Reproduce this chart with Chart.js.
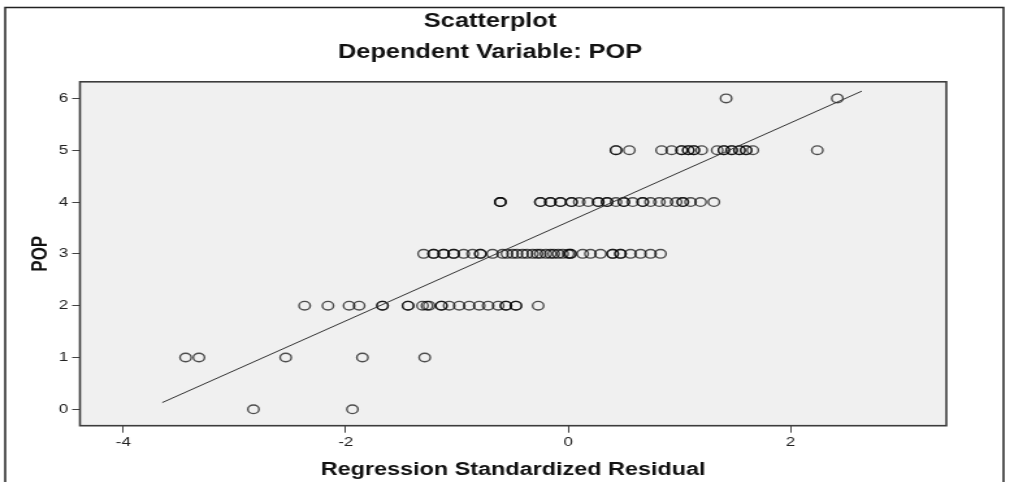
<!DOCTYPE html>
<html>
<head>
<meta charset="utf-8">
<script src="https://cdn.jsdelivr.net/npm/chart.js@4"></script>
<style>
    html, body { margin: 0; padding: 0; background: #fff; overflow: hidden; }
    /* the source image is stretched sideways, so the canvas is too */
    #wrap { width: 777px; height: 482px; transform: scaleX(1.2999); transform-origin: 0 0; }
</style>
</head>
<body>
<div id="wrap"><canvas id="chart" width="777" height="482"></canvas></div>
<script>
// residuals (x) for each POP value (y)
const popLevels = [0, 1, 2, 3, 4, 5, 6];
const resPop0 = [-2.83, -1.94];
const resPop1 = [-3.44, -3.32, -2.54, -1.85, -1.29];
const resPop2 = [-2.37, -2.16, -1.97, -1.88, -1.67, -1.67, -1.44, -1.44, -1.31, -1.27, -1.25,
    -1.14, -1.14, -1.07, -0.98, -0.89, -0.80, -0.72, -0.63, -0.56, -0.56, -0.47, -0.47, -0.27];
const resPop3 = [-1.30, -1.21, -1.21, -1.12, -1.12, -1.03, -1.03, -0.94, -0.86, -0.79, -0.79,
    -0.68, -0.59, -0.55, -0.50, -0.46, -0.41, -0.37, -0.32, -0.28, -0.25, -0.20, -0.16, -0.13,
    -0.09, -0.05, 0.00, 0.02, 0.02, 0.13, 0.20, 0.29, 0.40, 0.40, 0.47, 0.47, 0.56, 0.65, 0.74, 0.83];
const resPop4 = [-0.61, -0.61, -0.61, -0.25, -0.25, -0.16, -0.16, -0.07, -0.07, 0.03, 0.03,
    0.10, 0.18, 0.27, 0.27, 0.35, 0.35, 0.43, 0.50, 0.50, 0.58, 0.67, 0.67, 0.74, 0.82, 0.89,
    0.97, 1.03, 1.03, 1.10, 1.19, 1.31];
const resPop5 = [0.43, 0.43, 0.55, 0.84, 0.93, 1.02, 1.02, 1.08, 1.08, 1.13, 1.13, 1.20,
    1.34, 1.40, 1.40, 1.47, 1.47, 1.54, 1.54, 1.60, 1.60, 1.66, 2.24];
const resPop6 = [1.42, 2.42];
const residualsByPop = [resPop0, resPop1, resPop2, resPop3, resPop4, resPop5, resPop6];

// fit line end points
const fitX = [-3.65, 2.64];
const fitY = [0.13, 6.14];

const xTickStep = 2;
const yTickStep = 1;

let points = [];
popLevels.forEach((pop, i) => {
    residualsByPop[i].forEach(r => points.push({ x: r, y: pop }));
});
const fitLine = fitX.map((x, i) => ({ x: x, y: fitY[i] }));

const framePlugin = {
    id: 'frames',
    beforeDraw(chart) {
        const ctx = chart.ctx;
        const a = chart.chartArea;
        ctx.save();
        ctx.fillStyle = '#ffffff';
        ctx.fillRect(0, 0, chart.width, chart.height);
        ctx.fillStyle = '#f0f0f0';
        ctx.fillRect(a.left, a.top, a.right - a.left, a.bottom - a.top);
        ctx.restore();
    },
    afterDraw(chart) {
        const ctx = chart.ctx;
        const a = chart.chartArea;
        ctx.save();
        ctx.strokeStyle = '#3c3c3c';
        ctx.lineWidth = 1.6;
        ctx.strokeRect(a.left, a.top, a.right - a.left, a.bottom - a.top);
        // outer border of the output panel
        ctx.strokeStyle = '#222';
        ctx.lineWidth = 1.5;
        ctx.strokeRect(4, 7.5, 768, 500);
        ctx.restore();
    }
};

const fontFamily = '"Liberation Sans", Arial, sans-serif';

new Chart(document.getElementById('chart'), {
    data: {
        datasets: [{
            type: 'line',
            data: fitLine,
            borderColor: '#333',
            borderWidth: 1,
            pointRadius: 0,
            fill: false
        }, {
            type: 'scatter',
            data: points,
            pointStyle: 'circle',
            pointRadius: 4.3,
            pointBorderWidth: 1.4,
            pointBorderColor: 'rgba(0, 0, 0, 0.68)',
            pointBackgroundColor: 'rgba(0, 0, 0, 0)'
        }]
    },
    options: {
        responsive: false,
        animation: false,
        events: [],
        layout: { padding: { left: 26, right: 49, top: 0, bottom: 0 } },
        plugins: {
            legend: { display: false },
            tooltip: { enabled: false },
            title: {
                display: true,
                text: 'Scatterplot',
                color: '#111',
                font: { family: fontFamily, size: 19.5, weight: 'bold' },
                padding: { top: 10, bottom: 6 }
            },
            subtitle: {
                display: true,
                text: 'Dependent Variable: POP',
                color: '#111',
                font: { family: fontFamily, size: 19.5, weight: 'bold' },
                padding: { top: 2, bottom: 17 }
            }
        },
        scales: {
            x: {
                type: 'linear',
                min: -4.39,
                max: 3.40,
                ticks: { stepSize: xTickStep, includeBounds: false, color: '#222', padding: 2,
                    font: { family: fontFamily, size: 13 } },
                grid: { drawOnChartArea: false, tickLength: 7, color: '#444', lineWidth: 1 },
                border: { display: false },
                title: {
                    display: true,
                    text: 'Regression Standardized Residual',
                    color: '#111',
                    font: { family: fontFamily, size: 18, weight: 'bold' },
                    padding: { top: 4, bottom: 1 }
                },
                afterFit: scale => { scale.height = 56.3; }
            },
            y: {
                type: 'linear',
                min: -0.316,
                max: 6.32,
                ticks: { stepSize: yTickStep, includeBounds: false, color: '#222', padding: 3,
                    font: { family: fontFamily, size: 13 } },
                grid: { drawOnChartArea: false, tickLength: 6, color: '#444', lineWidth: 1 },
                border: { display: false },
                title: {
                    display: true,
                    text: 'POP',
                    color: '#111',
                    font: { family: fontFamily, size: 17, weight: 'bold' },
                    padding: { top: -5, bottom: 0 }
                },
                afterFit: scale => { scale.width = 35.5; }
            }
        }
    },
    plugins: [framePlugin]
});
</script>
</body>
</html>
